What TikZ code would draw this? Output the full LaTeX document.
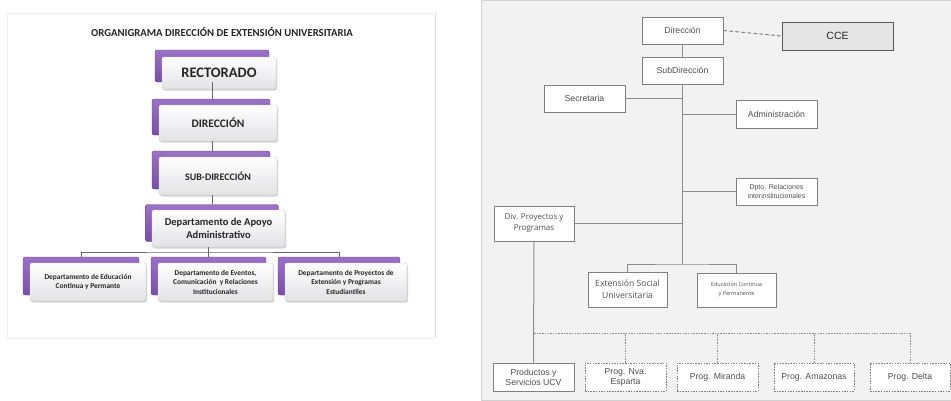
\documentclass[tikz,border=0pt]{standalone}
\usepackage{fontspec}
\usetikzlibrary{shadows,calc}
\newfontfamily\carl{Carlito}
\newfontfamily\lib{Liberation Sans}
\newfontfamily\opens{Open Sans}
\definecolor{purp}{HTML}{7A4DA8}
\definecolor{purpL}{HTML}{9B72C8}
\definecolor{lgray}{HTML}{E2E2E6}
\definecolor{panel}{HTML}{F2F2F2}
\definecolor{bordr}{HTML}{808080}
\definecolor{txt}{HTML}{505050}
\begin{document}
\begin{tikzpicture}[x=1pt,y=-1pt,
  backbox/.style={minimum width=#1, minimum height=30pt, inner sep=0pt, rounded corners=2pt,
     top color=purpL, bottom color=purp, draw=purp!80!black, line width=0.3pt},
  frontbox/.style={rounded corners=2pt, inner sep=1pt, align=center, text=black!85,
     top color=white, bottom color=lgray, draw=black!20, line width=0.4pt,
     drop shadow={opacity=0.35, shadow xshift=1pt, shadow yshift=-1.5pt}},
  lconn/.style={draw=black!60, line width=0.8pt},
  rbox/.style={draw=bordr, fill=white, line width=0.9pt, inner sep=1pt, align=center,
     text=txt, font=\lib\fontsize{8.7}{10}\selectfont},
  rdot/.style={rbox, dash pattern=on 1.5pt off 1.2pt},
  rconn/.style={draw=black!45, line width=1pt},
  rdash/.style={draw=black!45, line width=0.8pt, dash pattern=on 1.5pt off 1.2pt}
]
\useasboundingbox (0,0) rectangle (951,400);
\fill[white] (0,0) rectangle (951,400);
% panels
\draw[fill=white, draw=black!6] (7,13) rectangle (435,338);
\draw[black!12, line width=1pt] (435,13) -- (435,338);
\draw[fill=panel, draw=black!18] (481,0) rectangle (951.5,400.5);

% ---------- left chart ----------
\node[font=\carl\bfseries\fontsize{10.7}{12}\selectfont, text=black!85] (title) at (222,32) {ORGANIGRAMA DIRECCIÓN DE EXTENSIÓN UNIVERSITARIA};

\node[backbox=114pt, minimum height=32pt] (rectB) at (212,66) {};
\node[frontbox, minimum width=114pt, minimum height=32pt, font=\carl\bfseries\fontsize{14.5}{16}\selectfont] (rect) at (219,73) {RECTORADO};

\node[backbox=118pt, minimum height=36pt] (dirB) at (211,117) {};
\node[frontbox, minimum width=118pt, minimum height=36pt, font=\carl\bfseries\fontsize{11.5}{13}\selectfont] (dir) at (218,123) {DIRECCIÓN};

\node[backbox=118pt, minimum height=38pt] (subB) at (211,170) {};
\node[frontbox, minimum width=118pt, minimum height=38pt, font=\carl\bfseries\fontsize{10}{12}\selectfont] (sub) at (218,176) {SUB-DIRECCIÓN};

\node[backbox=133pt, minimum height=37pt] (apoB) at (212,223) {};
\node[frontbox, minimum width=133pt, minimum height=37pt, font=\carl\bfseries\fontsize{10.5}{12.5}\selectfont] (apo) at (218.5,228.5) {Departamento de Apoyo\\Administrativo};

\node[backbox=116pt, minimum height=38pt] (b1B) at (81,276) {};
\node[frontbox, minimum width=116pt, minimum height=38pt, font=\carl\bfseries\fontsize{7.4}{9.5}\selectfont] (b1) at (88,282) {Departamento de Educación\\Continua y Permante};

\node[backbox=115pt, minimum height=38pt] (b2B) at (208.5,276) {};
\node[frontbox, minimum width=115pt, minimum height=38pt, font=\carl\bfseries\fontsize{7.4}{9.5}\selectfont] (b2) at (215.5,282) {Departamento de Eventos,\\Comunicación\ \ y Relaciones\\Institucionales};

\node[backbox=122pt, minimum height=38pt] (b3B) at (339,276) {};
\node[frontbox, minimum width=122pt, minimum height=38pt, font=\carl\bfseries\fontsize{7.4}{9.5}\selectfont] (b3) at (346,282) {Departamento de Proyectos de\\Extensión y Programas\\Estudiantiles};

\draw[lconn] (rectB.south -| 212,0) -- (dirB.north -| 212,0);
\draw[lconn] (dir.south -| 212,0) -- (subB.north -| 212,0);
\draw[lconn] (sub.south -| 212,0) -- (apoB.north -| 212,0);
\draw[lconn] (apo.south -| 208.5,0) -- (b2B.north);
\draw[lconn] (b1B.north) |- (208.5,252) -| (b3B.north);

% ---------- right chart ----------
\node[rbox, minimum width=81pt, minimum height=27pt] (rdir) at (682.5,30.5) {Dirección};
\node[draw=black!65, fill=black!10, line width=1pt, minimum width=111pt, minimum height=28pt, font=\lib\fontsize{10.5}{12}\selectfont, text=black!85] (cce) at (837.5,36) {CCE};
\node[rbox, minimum width=81pt, minimum height=27pt] (rsub) at (682.5,70.5) {SubDirección};
\node[rbox, minimum width=81pt, minimum height=27pt] (sec) at (584.5,98.5) {Secretaria};
\node[rbox, minimum width=81pt, minimum height=28pt] (adm) at (776.5,114) {Administración};
\node[rbox, minimum width=81pt, minimum height=27pt, font=\lib\fontsize{7}{8.5}\selectfont] (dpto) at (776.5,191.5) {Dpto. Relaciones\\interinstitucionales};
\node[rbox, minimum width=80pt, minimum height=35pt, font=\opens\fontsize{8}{11}\selectfont] (div) at (534,223.5) {Div. Proyectos y\\Programas};
\node[rbox, minimum width=79pt, minimum height=35pt, font=\opens\fontsize{8.6}{12}\selectfont] (ext) at (627.5,289.5) {Extensión Social\\Universitaria};
\node[rbox, minimum width=79pt, minimum height=34pt, font=\opens\fontsize{5.5}{9}\selectfont] (edu) at (736.5,290) {Educación Continua\\y Permanente};

\node[rbox, minimum width=81pt, minimum height=28pt] (prod) at (533.5,377) {Productos y\\Servicios UCV};
\node[rdot, minimum width=81pt, minimum height=28pt] (nva) at (625.5,377) {Prog. Nva.\\Esparta};
\node[rdot, minimum width=81pt, minimum height=28pt] (mir) at (717.5,377) {Prog. Miranda};
\node[rdot, minimum width=80pt, minimum height=28pt] (ama) at (814,377) {Prog. Amazonas};
\node[rdot, minimum width=80pt, minimum height=28pt] (del) at (910,377) {Prog. Delta};

\draw[draw=black!50, line width=1pt, dash pattern=on 3.5pt off 2.5pt] (rdir.east) -- (cce.west);
\draw[rconn] (rdir.south) -- (rsub.north);
\coordinate (tend) at (682.5,264);
\draw[rconn] (rsub.south) -- (tend);
\draw[rconn] (sec.east) -- (sec.east -| tend);
\draw[rconn] (adm.west -| tend) -- (adm.west);
\draw[rconn] (dpto.west -| tend) -- (dpto.west);
\draw[rconn] (div.east) -- (div.east -| tend);
\draw[rconn] (ext.north) |- (tend) -| (edu.north);
\draw[rconn] (div.south) -- (prod.north);
\coordinate (dbus) at (534,333);
\draw[rdash] (dbus) -| (del.north);
\draw[rdash] (nva.north) -- (nva.north |- dbus);
\draw[rdash] (mir.north) -- (mir.north |- dbus);
\draw[rdash] (ama.north) -- (ama.north |- dbus);
\end{tikzpicture}
\end{document}
